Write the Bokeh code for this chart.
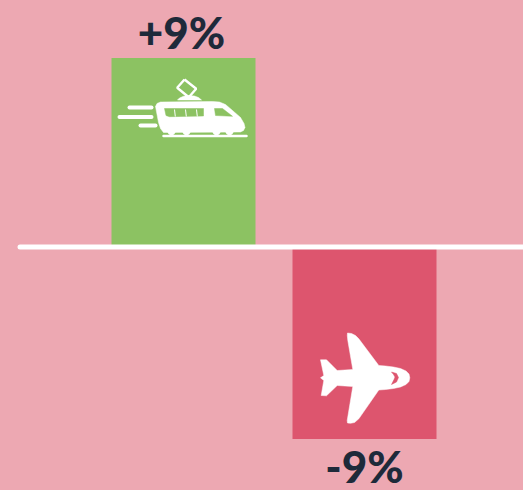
from bokeh.plotting import figure
from bokeh.models import Range1d
from bokeh.core.properties import value
from bokeh.embed import file_html
from bokeh.resources import INLINE

categories = ["Train", "Plane"]
changes = [9, -9]
labels = ["+9%", "-9%"]

BG = "#EDA8B2"
GREEN = "#8CC262"
RED = "#DD556E"
INK = "#1E2A3A"

W, H = 523, 490
PX_PER_CAT = 181.0
PX_PER_PCT = 21.17
ZERO_PX = 248.0
LEFT_PX = 183.0

p = figure(width=W, height=H, output_backend="svg", toolbar_location=None,
           x_range=Range1d(-LEFT_PX / PX_PER_CAT, (W - LEFT_PX) / PX_PER_CAT),
           y_range=Range1d(-(H - ZERO_PX) / PX_PER_PCT, ZERO_PX / PX_PER_PCT),
           x_axis_type=None, y_axis_type=None, min_border=0, outline_line_color=None,
           background_fill_color=BG, border_fill_color=BG)
p.grid.visible = False


def dx(xs):
    return [x / PX_PER_CAT - LEFT_PX / PX_PER_CAT for x in xs]


def dy(ys):
    return [(ZERO_PX - y) / PX_PER_PCT for y in ys]


def shape(pts, color):
    p.patch(dx([a for a, _ in pts]), dy([b for _, b in pts]), fill_color=color, line_color=color,
            line_width=0.5, line_join="round")


def stroke(x0, y0, x1, y1, w, color="white", cap="round"):
    p.line(dx([x0, x1]), dy([y0, y1]), line_width=w, line_color=color, line_cap=cap)


# bars
xs = list(range(len(categories)))
colors = [GREEN, RED]
p.vbar(x=xs, bottom=[0, 0], top=changes, width=144 / PX_PER_CAT, fill_color=colors, line_color=None)

# baseline
stroke(19.5, 246.5, 540, 246.5, 5)

# labels
FONT = value("Lato Black, Lato")
p.text(x=[xs[0]], y=[changes[0]], text=[labels[0]], text_font=FONT, text_font_size="44px",
       text_font_style="bold", text_color=INK, text_align="center", text_baseline="alphabetic",
       x_offset=[-2], y_offset=[-26])
p.text(x=[xs[1]], y=[changes[1]], text=[labels[1]], text_font=FONT, text_font_size="44px",
       text_font_style="bold", text_color=INK, text_align="center", text_baseline="alphabetic",
       x_offset=[0], y_offset=[27])

# train icon (speed lines)
stroke(129, 107, 151, 107, 4)
stroke(119, 116.5, 151, 116.5, 4)
stroke(140, 125, 155, 125, 4)
# rail
stroke(163, 135.5, 246, 135.5, 2.5)
# pantograph
p.line(dx([184, 195.7, 188.3, 176.7, 184]), dy([79, 88.3, 96.7, 87.3, 79]), line_color="white", line_width=2.4)
shape([(177, 99.5), (179, 97.5), (183, 95.8), (188, 95), (194, 95.5), (198, 97), (201, 99.5)], "white")
# body
shape([(155, 106), (156.5, 103), (160, 101.5), (212, 101), (219, 101.5), (225, 104), (232, 110), (240, 117),
       (243.5, 123), (244.5, 127), (243, 130), (240, 131.5), (163, 132), (160, 128), (158, 122)], "white")
# wheels
p.circle(dx([171, 186, 216, 229]), dy([130.5, 130.5, 130.5, 130.5]), radius=4.2 / PX_PER_CAT, fill_color="white", line_color=None)
# windows
shape([(164, 108), (203, 108), (203, 115.5), (169, 116.2), (165.5, 115)], GREEN)
shape([(214, 108), (222, 108), (232, 115.8), (215, 115)], GREEN)
for wx in (174, 185, 196):
    stroke(wx, 109, wx + 0.8, 116, 1, cap="butt")

# plane icon
shape([(409.3, 377.3), (408.5, 373.5), (405.5, 370.5), (400, 368), (393, 366.5), (385, 365.5), (378.3, 365),
       (358.3, 338.3), (355, 335), (351, 333), (347, 332.5), (346.8, 335), (347.3, 340), (352.3, 369),
       (336.7, 370), (326, 359.3), (320, 359.3), (323.3, 375), (320, 377.3),
       (323.3, 380), (320.7, 395), (326, 395.3), (336.7, 385), (352.3, 386), (346.7, 420), (347, 422.5),
       (350, 422.8), (354, 422), (358.3, 418.3), (378.3, 389.5), (385, 389), (393, 388), (400, 386.5),
       (405.5, 384), (408.5, 381)], "white")
shape([(391, 371.5), (396, 373), (398, 377), (396, 381.5), (391, 384), (393.5, 379), (394.5, 376.5), (393, 374)], RED)

html = file_html(p, INLINE)
html = html.replace("<head>", f"<head><style>html,body{{margin:0;padding:0;background:{BG};overflow:hidden}}</style>", 1)
open("out.html", "w").write(html)
